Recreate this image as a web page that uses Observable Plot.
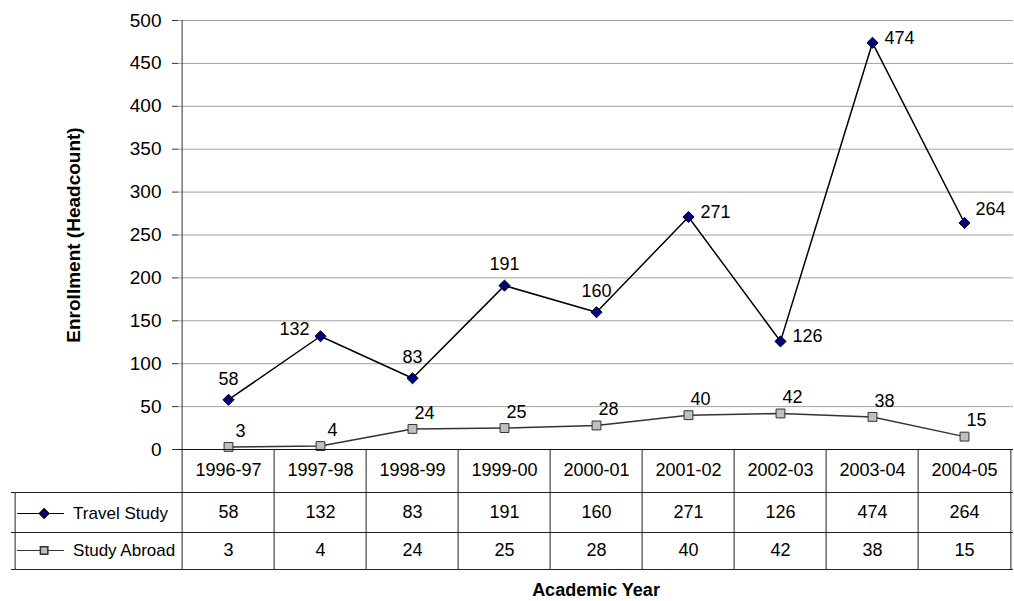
<!DOCTYPE html>
<html>
<head>
<meta charset="utf-8">
<script src="https://cdn.jsdelivr.net/npm/d3@7"></script>
<script src="https://cdn.jsdelivr.net/npm/@observablehq/plot@0.6"></script>
<style>
  html, body { margin: 0; padding: 0; background: #fff; }
  #chart { width: 1014px; height: 601px; }
</style>
</head>
<body>
<div id="chart"></div>
<script>
// ---- data ----
const years = ["1996-97","1997-98","1998-99","1999-00","2000-01","2001-02","2002-03","2003-04","2004-05"];
const travelStudy = [58,132,83,191,160,271,126,474,264];
const studyAbroad = [3,4,24,25,28,40,42,38,15];
const seriesNames = ["Travel Study","Study Abroad"];
const yTicks = [0,50,100,150,200,250,300,350,400,450,500];
const yTitle = "Enrollment (Headcount)";
const xTitle = "Academic Year";

// ---- layout ----
const W = 1014, H = 601;
const mL = 178, mR = 1, mT = 20, mB = 152;
const bw = (W - mL - mR) / years.length;
const pxPerUnit = (H - mB - mT) / 500;
const below = px => -px / pxPerUnit;   // pixel distance below baseline -> y units
const font = "'Liberation Sans', Arial, Helvetica, sans-serif";
const fs = 17;

const travel = years.map((y, i) => ({year: y, value: travelStudy[i]}));
const abroad = years.map((y, i) => ({year: y, value: studyAbroad[i]}));

// label placement (style), by index
const travelPlace = ["above","left","above","above","above","right","right","right","upright"];

const rowHeader = 21, row1 = 63, row2 = 101;

const plot = Plot.plot({
  width: W, height: H,
  marginLeft: mL, marginRight: mR, marginTop: mT, marginBottom: mB,
  style: {fontFamily: font, fontSize: fs + "px", color: "black", background: "white", overflow: "visible"},
  x: {type: "band", domain: years, padding: 0, axis: null},
  y: {domain: [0, 500], axis: null},
  marks: [
    Plot.gridY(yTicks.filter(t => t > 0), {stroke: "#a0a0a0", strokeOpacity: 1}),
    // series
    Plot.line(abroad, {x: "year", y: "value", stroke: "#333", strokeWidth: 1.5}),
    Plot.line(travel, {x: "year", y: "value", stroke: "black", strokeWidth: 1.5}),
    Plot.dot(abroad, {x: "year", y: "value", symbol: "square", r: 5, fill: "#c0c0c0", stroke: "#333", strokeWidth: 1}),
    Plot.dot(travel, {x: "year", y: "value", symbol: "diamond2", r: 5, fill: "#000080", stroke: "black", strokeWidth: 1}),
    // data labels
    Plot.text(travel, {filter: (d, i) => travelPlace[i] === "above", x: "year", y: "value", text: "value", dy: -21, fontSize: 18}),
    Plot.text(travel, {filter: (d, i) => travelPlace[i] === "left", x: "year", y: "value", text: "value", dx: -11, dy: -7, textAnchor: "end", fontSize: 18}),
    Plot.text(travel, {filter: (d, i) => travelPlace[i] === "right", x: "year", y: "value", text: "value", dx: 12, dy: -5, textAnchor: "start", fontSize: 18}),
    Plot.text(travel, {filter: (d, i) => travelPlace[i] === "upright", x: "year", y: "value", text: "value", dx: 11, dy: -14, textAnchor: "start", fontSize: 18}),
    Plot.text(abroad, {x: "year", y: "value", text: "value", dx: 12, dy: -16, fontSize: 18}),
    // y axis
    Plot.axisY({ticks: yTicks, tickSize: 6, tickPadding: 11, fontSize: 19, label: null, stroke: "#333"}),
    Plot.ruleX([years[0]], {dx: -bw / 2, y1: 500, y2: 0, stroke: "#333"}),
    // table horizontal lines
    Plot.ruleY([0], {stroke: "#111"}),
    Plot.ruleY([below(43), below(83), below(120)], {insetLeft: -(mL - 11), stroke: "#222"}),
    // table vertical lines
    Plot.ruleX(years, {dx: -bw / 2, y1: 0, y2: below(120), stroke: "#222"}),
    Plot.ruleX([years[years.length - 1]], {dx: bw / 2, y1: 0, y2: below(120), stroke: "#222"}),
    Plot.ruleX([years[0]], {dx: -bw / 2 - (mL - 11), y1: below(43), y2: below(120), stroke: "#222"}),
    // table text
    Plot.text(years, {x: d => d, y: () => 0, dy: rowHeader, fontSize: 18}),
    Plot.text(travel, {x: "year", y: () => 0, text: "value", dy: row1, fontSize: 18}),
    Plot.text(abroad, {x: "year", y: () => 0, text: "value", dy: row2, fontSize: 18}),
    // legend keys in table
    Plot.text([seriesNames[0]], {x: () => years[0], y: () => 0, dx: -bw / 2 - (mL - 69), dy: row1 + 1, textAnchor: "start", fontSize: fs}),
    Plot.text([seriesNames[1]], {x: () => years[0], y: () => 0, dx: -bw / 2 - (mL - 69), dy: row2, textAnchor: "start", fontSize: fs}),
    Plot.ruleY([below(row1 + 1)], {insetLeft: -(mL - 17), insetRight: (W - mR) - 64, stroke: "black", strokeWidth: 1.2}),
    Plot.ruleY([below(row2)], {insetLeft: -(mL - 17), insetRight: (W - mR) - 64, stroke: "#333", strokeWidth: 1.2}),
    Plot.dot([seriesNames[0]], {x: () => years[0], y: () => below(row1 + 1), dx: -bw / 2 - (mL - 40), symbol: "diamond2", r: 4.2, fill: "#000080", stroke: "black"}),
    Plot.dot([seriesNames[1]], {x: () => years[0], y: () => below(row2), dx: -bw / 2 - (mL - 40), symbol: "square", r: 4.2, fill: "#c0c0c0", stroke: "#333"}),
    // titles
    Plot.text([yTitle], {frameAnchor: "left", textAnchor: "middle", lineAnchor: "middle", rotate: -90, dx: -105, fontWeight: "bold", fontSize: 19}),
    Plot.text([xTitle], {frameAnchor: "bottom", textAnchor: "middle", lineAnchor: "middle", dy: 141, fontWeight: "bold", fontSize: 18})
  ]
});
document.getElementById("chart").appendChild(plot);
</script>
</body>
</html>
